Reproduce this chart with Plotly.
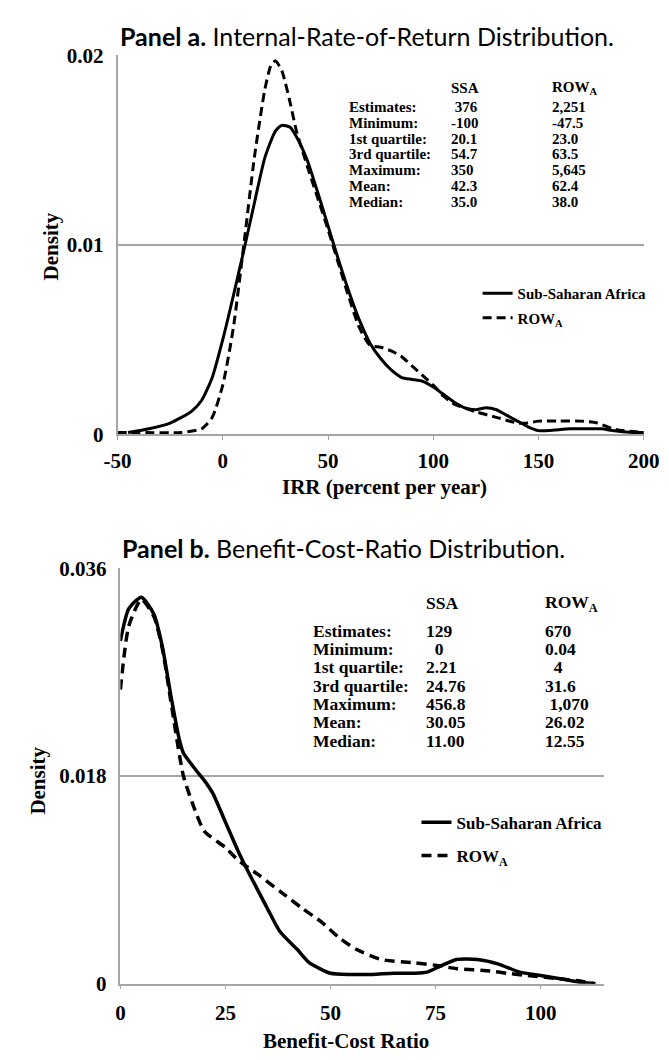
import plotly.graph_objects as go

# ---------------- Panel a data: IRR densities ----------------
irr_x_ssa = [-45, -35, -25, -15, -10, -5, 0, 5, 10, 15, 20, 25, 28, 32, 35, 40, 45, 50, 55, 60,
             65, 70, 75, 80, 85, 90, 95, 100, 105, 110, 115, 120, 125, 130, 135, 140, 145, 150,
             155, 165, 175, 180, 185, 195, 200]
irr_d_ssa = [0.0001, 0.0003, 0.0006, 0.0012, 0.0018, 0.0030, 0.0050, 0.0073, 0.0097, 0.0122,
             0.0146, 0.0160, 0.0163, 0.0162, 0.0157, 0.0145, 0.0128, 0.0110, 0.0092, 0.0075,
             0.0060, 0.0048, 0.0040, 0.0034, 0.0030, 0.0029, 0.0028, 0.0025, 0.0021, 0.0017,
             0.0014, 0.0013, 0.0014, 0.0013, 0.0010, 0.0007, 0.0004, 0.0002, 0.0002, 0.0003,
             0.0003, 0.0003, 0.0002, 0.0001, 0.0001]

irr_x_row = [-50, -40, -20, -10, -5, 0, 5, 10, 15, 20, 23, 25, 28, 32, 35, 40, 45, 50, 55, 60,
             65, 70, 75, 80, 85, 90, 95, 100, 105, 110, 120, 130, 140, 145, 150, 160, 170, 178,
             185, 190, 200]
irr_d_row = [0.0001, 0.0001, 0.0001, 0.0003, 0.0009, 0.0026, 0.0056, 0.0100, 0.0146, 0.0182,
             0.0195, 0.0197, 0.0192, 0.0175, 0.0160, 0.0142, 0.0125, 0.0108, 0.0090, 0.0072,
             0.0056, 0.0047, 0.0046, 0.0044, 0.0041, 0.0036, 0.0031, 0.0026, 0.0020, 0.0016,
             0.0012, 0.0009, 0.0006, 0.0006, 0.0007, 0.0007, 0.0007, 0.0006, 0.0003, 0.0002,
             0.0001]

# ---------------- Panel b data: BCR densities ----------------
bcr_x_ssa = [0, 2, 5, 8, 10, 12, 14, 15, 18, 20, 22, 25, 28, 30, 35, 38, 42, 45, 50, 55, 60,
             65, 70, 73, 76, 80, 85, 90, 95, 100, 105, 110, 113]
bcr_d_ssa = [0.0297, 0.0325, 0.0335, 0.0320, 0.0292, 0.0250, 0.0212, 0.0200, 0.0185, 0.0176,
             0.0165, 0.0140, 0.0115, 0.0100, 0.0065, 0.0045, 0.0030, 0.0018, 0.0009, 0.0008,
             0.0008, 0.0009, 0.0009, 0.0010, 0.0015, 0.0021, 0.0021, 0.0017, 0.0010, 0.0007,
             0.0004, 0.0001, 0.0000]

bcr_x_row = [0, 2, 5, 8, 10, 12, 15, 18, 20, 25, 28, 33, 38, 43, 48, 52, 56, 62, 70, 75, 80,
             88, 92, 97, 105, 110, 113]
bcr_d_row = [0.0255, 0.0310, 0.0333, 0.0318, 0.0290, 0.0245, 0.0180, 0.0148, 0.0132, 0.0118,
             0.0107, 0.0094, 0.0080, 0.0066, 0.0053, 0.0040, 0.0030, 0.0021, 0.0018, 0.0016,
             0.0013, 0.0011, 0.0009, 0.0007, 0.0004, 0.0002, 0.0000]

# ---------------- Summary tables ----------------
stat_labels = ["Estimates:", "Minimum:", "1st quartile:", "3rd quartile:", "Maximum:", "Mean:", "Median:"]
irr_ssa_stats = ["\u00a0376", "-100", "20.1", "54.7", "350", "42.3", "35.0"]
irr_row_stats = ["2,251", "-47.5", "23.0", "63.5", "5,645", "62.4", "38.0"]
bcr_ssa_stats = ["129", "\u00a0\u00a00", "2.21", "24.76", "456.8", "30.05", "11.00"]
bcr_row_stats = ["670", "0.04", "\u00a0\u00a04", "31.6", "\u00a01,070", "26.02", "12.55"]

irr_xticks = [-50, 0, 50, 100, 150, 200]
irr_xtext = ["-50", "0", "50", "100", "150", "200"]
irr_yticks = [0, 0.01, 0.02]
irr_ytext = ["0", "0.01", "0.02"]
bcr_xticks = [0, 25, 50, 75, 100]
bcr_xtext = ["0", "25", "50", "75", "100"]
bcr_yticks = [0, 0.018, 0.036]
bcr_ytext = ["0", "0.018", "0.036"]

W, H = 669, 1060
SERIF = "Liberation Serif"
GRAY = "#a6a6a6"


def px(x):
    return x / W


def py(y):
    return 1 - y / H


fig = go.Figure()

fig.add_trace(go.Scatter(x=irr_x_ssa, y=irr_d_ssa, mode="lines", name="Sub-Saharan Africa",
                         line=dict(color="black", width=3, shape="spline", smoothing=0.6),
                         xaxis="x", yaxis="y", legend="legend", legendgroup="a1"))
fig.add_trace(go.Scatter(x=irr_x_row, y=irr_d_row, mode="lines", name="ROW<sub>A</sub>",
                         line=dict(color="black", width=3, dash="9px,5px", shape="spline", smoothing=0.6),
                         xaxis="x", yaxis="y", legend="legend", legendgroup="a2"))
fig.add_trace(go.Scatter(x=bcr_x_ssa, y=bcr_d_ssa, mode="lines", name="Sub-Saharan Africa",
                         line=dict(color="black", width=3.5, shape="spline", smoothing=0.6),
                         xaxis="x2", yaxis="y2", legend="legend2", legendgroup="b1"))
fig.add_trace(go.Scatter(x=bcr_x_row, y=bcr_d_row, mode="lines", name="ROW<sub>A</sub>",
                         line=dict(color="black", width=3.5, dash="10px,6px", shape="spline", smoothing=0.6),
                         xaxis="x2", yaxis="y2", legend="legend2", legendgroup="b2"))

tickfont = dict(family=SERIF, size=21, color="black", weight="bold")

axis_common = dict(showline=True, linecolor=GRAY, linewidth=1.5, zeroline=False,
                   tickfont=tickfont, fixedrange=True)

fig.update_layout(
    width=W, height=H,
    margin=dict(l=0, r=0, t=0, b=0),
    paper_bgcolor="white", plot_bgcolor="white",
    xaxis=dict(domain=[px(100), px(651)], range=[-50, 200], tickvals=irr_xticks, ticktext=irr_xtext,
               ticks="outside", ticklen=4, tickcolor=GRAY, showgrid=False,
               anchor="y", ticklabelstandoff=3, **axis_common),
    yaxis=dict(domain=[py(424), py(36)], range=[0, 0.02], tickvals=irr_yticks, ticktext=irr_ytext,
               showgrid=True, gridcolor=GRAY, gridwidth=1.5, ticks="", anchor="x",
               ticklabelstandoff=8, **axis_common),
    xaxis2=dict(domain=[px(103), px(609)], range=[0, 115], tickvals=bcr_xticks, ticktext=bcr_xtext,
                ticks="outside", ticklen=4, tickcolor=GRAY, showgrid=False,
                anchor="y2", ticklabelstandoff=5, **axis_common),
    yaxis2=dict(domain=[py(986), py(561)], range=[0, 0.036], tickvals=bcr_yticks, ticktext=bcr_ytext,
                showgrid=True, gridcolor=GRAY, gridwidth=1.5, ticks="", anchor="x2",
                ticklabelstandoff=8, **axis_common),
    legend=dict(x=px(477), y=py(263), xanchor="left", yanchor="top", bgcolor="rgba(0,0,0,0)",
                font=dict(family=SERIF, size=15, color="black", weight="bold"),
                tracegroupgap=2, traceorder="grouped", borderwidth=0),
    legend2=dict(x=px(413), y=py(803), xanchor="left", yanchor="top", bgcolor="rgba(0,0,0,0)",
                 font=dict(family=SERIF, size=17, color="black", weight="bold"),
                 tracegroupgap=8, traceorder="grouped", borderwidth=0),
    showlegend=True,
)

ann = []
# Panel titles
ann.append(dict(text="<b>Panel a.</b> Internal-Rate-of-Return Distribution.", x=px(101), y=py(16),
                xanchor="left", font=dict(family="Lato", size=25, color="black")))
ann.append(dict(text="<b>Panel b.</b> Benefit-Cost-Ratio Distribution.", x=px(103), y=py(540),
                xanchor="left", font=dict(family="Lato", size=25, color="black")))
# Axis titles
axt = dict(family=SERIF, size=21, color="black", weight="bold")
ann.append(dict(text="IRR (percent per year)", x=px(380), y=py(478), font=axt))
ann.append(dict(text="Benefit-Cost Ratio", x=px(339), y=py(1045), font=axt))
ann.append(dict(text="Density", x=px(30), y=py(232), textangle=-90, font=axt))
ann.append(dict(text="Density", x=px(17), y=py(778), textangle=-90, font=axt))

# Tables
def table(x_lab, x_ssa, x_row, y_head, y0, dy, ssa_vals, row_vals, size):
    f = dict(family=SERIF, size=size, color="black", weight="bold")
    out = [dict(text="SSA", x=px(x_ssa), y=py(y_head), xanchor="left", font=f),
           dict(text="ROW<sub>A</sub>", x=px(x_row), y=py(y_head), xanchor="left", font=f)]
    for i, lab in enumerate(stat_labels):
        yy = py(y0 + i * dy)
        out.append(dict(text=lab, x=px(x_lab), y=yy, xanchor="left", font=f))
        out.append(dict(text=ssa_vals[i], x=px(x_ssa), y=yy, xanchor="left", font=f))
        out.append(dict(text=row_vals[i], x=px(x_row), y=yy, xanchor="left", font=f))
    return out

ann += table(340, 447, 553, 70, 89, 16.2, irr_ssa_stats, irr_row_stats, 15)
ann += table(303, 421, 545, 597, 625, 18.7, bcr_ssa_stats, bcr_row_stats, 17.5)

for a in ann:
    a.setdefault("xref", "paper")
    a.setdefault("yref", "paper")
    a.setdefault("showarrow", False)
    a.setdefault("yanchor", "middle")
    a.setdefault("xanchor", "center")
fig.update_layout(annotations=ann)

fig.write_html("out.html")
